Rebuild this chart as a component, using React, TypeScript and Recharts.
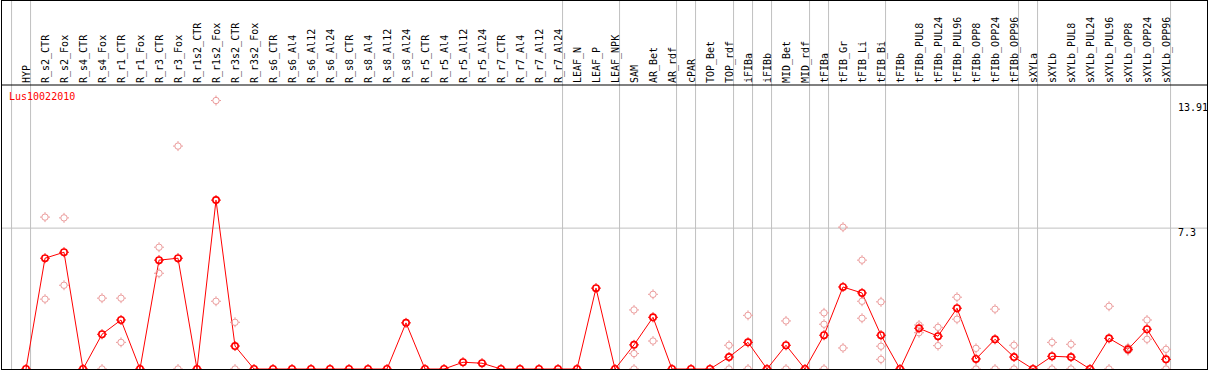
import React from 'react';
import { ComposedChart, Line, Scatter, XAxis, YAxis, ReferenceLine } from 'recharts';

const categories = [
  'HYP', 'R_s2_CTR', 'R_s2_Fox', 'R_s4_CTR', 'R_s4_Fox', 'R_r1_CTR', 'R_r1_Fox', 'R_r3_CTR', 'R_r3_Fox',
  'R_r1s2_CTR', 'R_r1s2_Fox', 'R_r3s2_CTR', 'R_r3s2_Fox', 'R_s6_CTR', 'R_s6_Al4', 'R_s6_Al12', 'R_s6_Al24',
  'R_s8_CTR', 'R_s8_Al4', 'R_s8_Al12', 'R_s8_Al24', 'R_r5_CTR', 'R_r5_Al4', 'R_r5_Al12', 'R_r5_Al24',
  'R_r7_CTR', 'R_r7_Al4', 'R_r7_Al12', 'R_r7_Al24', 'LEAF_N', 'LEAF_P', 'LEAF_NPK', 'SAM', 'AR_Bet', 'AR_rdf',
  'cPAR', 'TOP_Bet', 'TOP_rdf', 'iFIBa', 'iFIBb', 'MID_Bet', 'MID_rdf', 'tFIBa', 'tFIB_Gr', 'tFIB_Li', 'tFIB_Bi',
  'tFIBb', 'tFIBb_PUL8', 'tFIBb_PUL24', 'tFIBb_PUL96', 'tFIBb_OPP8', 'tFIBb_OPP24', 'tFIBb_OPP96',
  'sXYLa', 'sXYLb', 'sXYLb_PUL8', 'sXYLb_PUL24', 'sXYLb_PUL96', 'sXYLb_OPP8', 'sXYLb_OPP24', 'sXYLb_OPP96',
];

// mean expression per sample
const means = [
  0, 5.74, 6.05, 0, 1.8, 2.54, 0, 5.64, 5.74,
  0, 8.75, 1.19, 0, 0, 0, 0, 0,
  0, 0, 0, 2.39, 0, 0, 0.35, 0.3,
  0, 0, 0, 0, 0, 4.19, 0, 1.25, 2.68, 0,
  0, 0, 0.62, 1.38, 0, 1.23, 0, 1.75, 4.25, 3.94, 1.75,
  0, 2.11, 1.7, 3.15, 0.52, 1.54, 0.62,
  0, 0.66, 0.62, 0, 1.59, 1.02, 2.06, 0.5,
];

// individual replicates per sample
const replicates: number[][] = [
  [], [7.87, 3.62], [7.83, 4.34], [], [3.67, 0], [3.67, 1.38], [], [6.31, 4.96], [11.55, 0],
  [], [13.91, 3.51], [2.42, 0], [], [], [], [], [],
  [], [], [], [], [], [], [], [],
  [], [], [], [], [], [], [], [3.06, 0.8, 0], [3.87, 1.45], [],
  [], [], [1.23, 0], [2.78, 0], [], [2.49, 0], [], [2.91, 2.32, 0], [7.35, 1.09], [5.64, 3.51, 2.63], [3.48, 1.18, 0.5],
  [], [2.28, 1.88], [2.16, 1.21], [3.72, 2.58], [1.07, 0], [3.1, 0], [1.23, 0],
  [], [1.38, 0], [1.28, 0], [], [3.25, 0], [1.1, 0.95], [2.54, 1.54], [1.02, 0],
];

// number of samples in each tissue group
const groupSizes = [1, 28, 3, 3, 1, 2, 1, 1, 2, 1, 3, 7, 1, 7];

const yTicks = [0, 7.3, 13.91];
const geneName = 'Lus10022010';

const W = 1209;
const H = 370;
const HEADER_H = 85;
const STEP = 19;
const X_MIN = -25 / STEP;
const X_MAX = 1181 / STEP;
const Y_MAX = 14.715;
const FONT = '"DejaVu Sans Mono", "Liberation Mono", monospace';
const RED = '#ff0000';
const PINK = '#eb9a9a';
const GRID = '#c0c0c0';

const data = categories.map((name, i) => ({ idx: i, name, mean: means[i] }));
const repPoints = replicates.flatMap((reps, i) => reps.map((v) => ({ idx: i, rep: v })));

const separators: number[] = [-1];
groupSizes.reduce((acc, n) => {
  separators.push(acc + n - 1);
  return acc + n;
}, 0);

const Ring = ({ cx, cy, color, sw }: any) => {
  if (cx == null || cy == null) return null;
  return (
    <g>
      <circle cx={cx} cy={cy} r={3.2} fill="none" stroke={color} strokeWidth={sw} />
      <path
        d={`M${cx} ${cy - 5}v1.6M${cx} ${cy + 3.4}v1.6M${cx - 5} ${cy}h1.6M${cx + 3.4} ${cy}h1.6`}
        stroke={color}
        strokeWidth={1}
      />
    </g>
  );
};

const CatTick = (props: any) => {
  const { x, payload } = props;
  const tx = x + 4;
  const ty = HEADER_H - 2;
  return (
    <text x={tx} y={ty} transform={`rotate(-90 ${tx} ${ty})`} fontFamily={FONT} fontSize={10} fill="#000">
      {categories[payload.value]}
    </text>
  );
};

const ValTick = (props: any) => {
  const { y, payload } = props;
  const v = payload.value;
  const dy = v === 0 ? -3.3 : v === yTicks[yTicks.length - 1] ? 10 : 8;
  return (
    <text x={1178} y={y + dy} fontFamily={FONT} fontSize={10} fill="#000">
      {String(v)}
    </text>
  );
};

const SepLine = (props: any) => {
  const { x1, y2 } = props;
  if (x1 == null) return null;
  return <line x1={x1} x2={x1} y1={0} y2={y2} stroke={GRID} strokeWidth={1} />;
};

export default function App() {
  return (
    <div style={{ position: 'relative', width: W, height: H, background: '#fff' }}>
      <style>{'body{margin:0;}'}</style>
      <ComposedChart width={W} height={H} data={data} margin={{ top: 0, right: 2, bottom: 1, left: 1 }}>
        <XAxis
          dataKey="idx"
          type="number"
          orientation="top"
          height={HEADER_H}
          domain={[X_MIN, X_MAX]}
          ticks={data.map((d) => d.idx)}
          interval={0}
          allowDataOverflow
          tickLine={false}
          axisLine={{ stroke: '#000', strokeWidth: 1 }}
          tick={<CatTick />}
        />
        <YAxis
          orientation="right"
          mirror
          domain={[0, Y_MAX]}
          ticks={yTicks}
          allowDataOverflow
          axisLine={false}
          tickLine={false}
          tick={<ValTick />}
        />
        <ReferenceLine y={7.3} stroke={GRID} strokeWidth={1} />
        {separators.map((s) => (
          <ReferenceLine key={s} x={s + 0.24} stroke={GRID} shape={<SepLine />} />
        ))}
        <Scatter
          data={repPoints}
          dataKey="rep"
          isAnimationActive={false}
          shape={(p: any) => <Ring cx={p.cx} cy={p.cy} color={PINK} sw={1} />}
        />
        <Line
          type="linear"
          dataKey="mean"
          stroke={RED}
          strokeWidth={1}
          isAnimationActive={false}
          dot={(p: any) => <Ring key={p.index} cx={p.cx} cy={p.cy} color={RED} sw={1.6} />}
          activeDot={false}
        />
      </ComposedChart>
      <div
        style={{
          position: 'absolute',
          left: 9,
          top: 92,
          fontFamily: FONT,
          fontSize: 10,
          lineHeight: '10px',
          color: RED,
        }}
      >
        {geneName}
      </div>
      <div
        style={{
          position: 'absolute',
          left: 1,
          top: 0,
          width: 1207,
          height: 370,
          boxSizing: 'border-box',
          border: '1px solid #000',
          pointerEvents: 'none',
        }}
      />
    </div>
  );
}
